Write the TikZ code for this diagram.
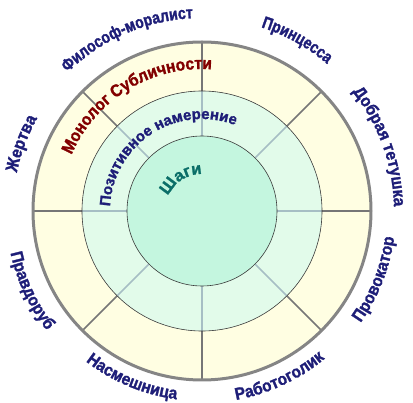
\documentclass[tikz,border=0pt]{standalone}
\usepackage{fontspec}
\setmainfont{Liberation Sans}
\newfontfamily\lblfont{Liberation Sans Bold}[FakeStretch=0.92, FakeBold=1.5]
\newfontfamily\lblfontn{Liberation Sans Bold}[FakeStretch=0.83, FakeBold=1.5]
\newfontfamily\lblfontw{Liberation Sans Bold}[FakeBold=1.5]
\usetikzlibrary{decorations.text}
\definecolor{outerfill}{HTML}{FFFEE2}
\definecolor{midfill}{HTML}{E2FBEA}
\definecolor{innerfill}{HTML}{C4F6DF}
\definecolor{rim}{HTML}{858585}
\definecolor{spokeout}{HTML}{767676}
\definecolor{spokein}{HTML}{A6BEC4}
\definecolor{ringcol}{HTML}{3A3A3A}
\definecolor{navy}{HTML}{1E1E78}
\definecolor{maroonc}{HTML}{820000}
\definecolor{tealc}{HTML}{0A6E68}
\begin{document}
\begin{tikzpicture}[x=1pt,y=1pt,
  arclbl/.style 2 args={decorate, decoration={text along path, text align=center,
     text={|\color{#1}|#2}}}]
\useasboundingbox (0,0) rectangle (413,-403);
\coordinate (C) at (202,-211);
\fill[outerfill] (C) circle[radius=169];
\fill[midfill] (C) circle[radius=120];
\fill[innerfill] (C) circle[radius=75];
\foreach \a in {0,45,...,315} {
  \draw[spokeout, line width=1.6] (C) ++(\a:120) -- ++(\a:49);
  \draw[spokein, line width=1.6] (C) ++(\a:75) -- ++(\a:45);
}
\draw[ringcol, line width=0.6] (C) circle[radius=120];
\draw[ringcol, line width=0.6] (C) circle[radius=75];
\draw[rim, line width=3] (C) circle[radius=169];
\begin{scope}
\lblfontn\fontsize{17}{17}\selectfont
\path[arclbl={navy}{Философ-моралист}] (C) ++(183.4:193) arc[start angle=183.4, end angle=43.4, radius=193];
\path[arclbl={navy}{Принцесса}] (C) ++(130.9:193) arc[start angle=130.9, end angle=-9.1, radius=193];
\end{scope}
\begin{scope}
\lblfont\fontsize{17}{17}\selectfont
% top labels (clockwise)
\path[arclbl={navy}{Добрая тетушка}] (C) ++(89.9:192) arc[start angle=89.9, end angle=-50.1, radius=192];
\path[arclbl={navy}{Жертва}] (C) ++(229.5:189) arc[start angle=229.5, end angle=89.5, radius=189];
% bottom labels (counterclockwise)
\path[arclbl={navy}{Провокатор}] (C) ++(-91.5:194) arc[start angle=-91.5, end angle=48.5, radius=194];
\path[arclbl={navy}{Работоголик}] (C) ++(-135:192) arc[start angle=-135, end angle=5, radius=192];
\path[arclbl={navy}{Насмешница}] (C) ++(-182.7:190) arc[start angle=-182.7, end angle=-42.7, radius=190];
\path[arclbl={navy}{Правдоруб}] (C) ++(-225:196) arc[start angle=-225, end angle=-85, radius=196];
% inner title
\path[arclbl={maroonc}{Монолог Субличности}] (C) ++(191.4:142) arc[start angle=191.4, end angle=51.4, radius=142];
\end{scope}
\begin{scope}
\lblfontw\fontsize{15}{15}\selectfont
\path[arclbl={navy}{Позитивное намерение}] (C) ++(193:92) arc[start angle=193, end angle=53, radius=92];
\end{scope}
\begin{scope}
\lblfontw\fontsize{16.5}{16.5}\selectfont
\path[arclbl={tealc}{Шаги}] (C) ++(193:37) arc[start angle=193, end angle=53, radius=37];
\end{scope}
\end{tikzpicture}
\end{document}
